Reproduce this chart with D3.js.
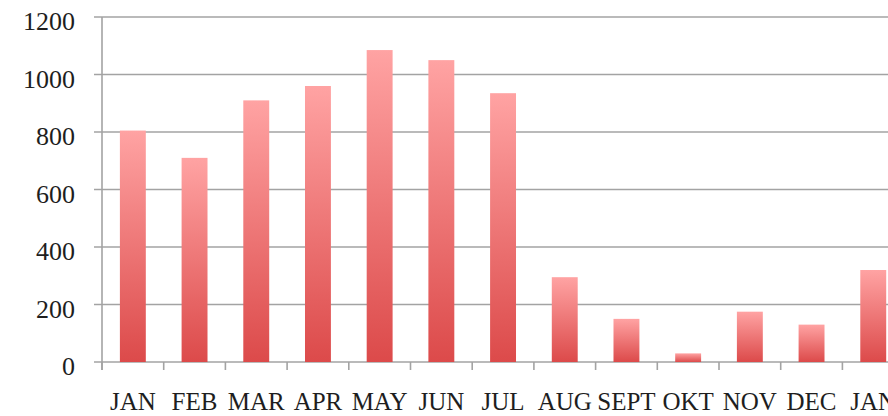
<!DOCTYPE html>
<html><head><meta charset="utf-8">
<script src="https://cdn.jsdelivr.net/npm/d3@7"></script>
<style>body{margin:0;background:#fff}svg{display:block}</style>
</head><body>
<script>
const categories = ["JAN","FEB","MAR","APR","MAY","JUN","JUL","AUG","SEPT","OKT","NOV","DEC","JAN"];
const values = [805, 710, 910, 960, 1085, 1050, 935, 295, 150, 30, 175, 130, 320];
const yTicks = [0, 200, 400, 600, 800, 1000, 1200];

const W = 888, H = 416;
const x0 = 102, step = 61.7;
const svg = d3.select("body").append("svg").attr("width", W).attr("height", H);
const defs = svg.append("defs");
const g = defs.append("linearGradient").attr("id","grad").attr("x1",0).attr("y1",0).attr("x2",0).attr("y2",1);
g.append("stop").attr("offset","0%").attr("stop-color","#ffa3a3");
g.append("stop").attr("offset","100%").attr("stop-color","#dc4a4a");

const x = d3.scaleBand().domain(d3.range(categories.length)).range([x0, x0 + step*categories.length]).paddingInner(0.58).paddingOuter(0.29);
const y = d3.scaleLinear().domain([0,1200]).range([362, 17]);

// gridlines
svg.append("g").selectAll("line").data(yTicks).join("line")
  .attr("x1", 94).attr("x2", W).attr("y1", d=>y(d)).attr("y2", d=>y(d))
  .attr("stroke", "#a3a3a3").attr("stroke-width", 1.6);

// y axis line
svg.append("line").attr("x1", x0).attr("x2", x0).attr("y1", y(1200)).attr("y2", y(0)+8)
  .attr("stroke", "#a3a3a3").attr("stroke-width", 1.6);

// x ticks
svg.append("g").selectAll("line").data(d3.range(categories.length+1)).join("line")
  .attr("x1", i=>x0+i*step).attr("x2", i=>x0+i*step).attr("y1", y(0)).attr("y2", y(0)+8)
  .attr("stroke", "#a3a3a3").attr("stroke-width", 1.6);

// bars
svg.append("g").selectAll("rect").data(values).join("rect")
  .attr("x", (d,i)=>x(i)).attr("width", x.bandwidth())
  .attr("y", d=>y(d)).attr("height", d=>y(0)-y(d))
  .attr("fill", "url(#grad)");

// y labels
svg.append("g").selectAll("text").data(yTicks).join("text")
  .attr("x", 75).attr("y", d=>y(d)+13).attr("text-anchor","end")
  .attr("font-family","Liberation Serif").attr("font-size", 26).attr("fill","#1e1e1e")
  .text(d=>d);

// x labels
svg.append("g").selectAll("text").data(categories).join("text")
  .attr("x", (d,i)=>x(i)+x.bandwidth()/2).attr("y", 410)
  .attr("text-anchor","middle")
  .attr("font-family","Liberation Serif").attr("font-size", 25).attr("fill","#1e1e1e")
  .text(d=>d);
</script>
</body></html>
